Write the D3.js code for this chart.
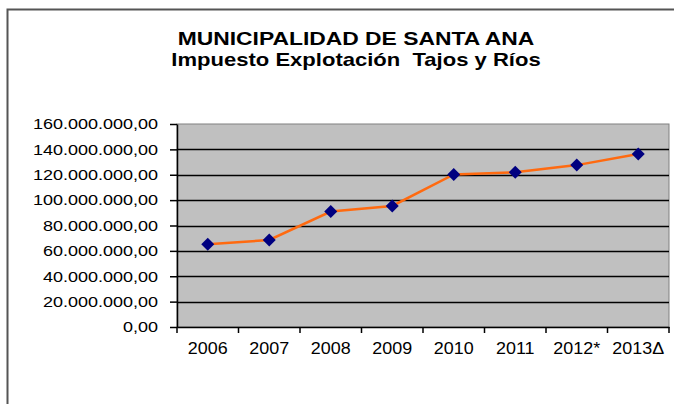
<!DOCTYPE html>
<meta charset="utf-8">
<style>
  body { margin: 0; background: #fff; }
  text { font-family: "Liberation Sans", Arial, sans-serif; white-space: pre; }
</style>
<body>
<script src="https://d3js.org/d3.v7.min.js"></script>
<script>

var years = ["2006", "2007", "2008", "2009", "2010", "2011", "2012*", "2013\u0394"];
var values = [65200000, 68600000, 91000000, 95400000, 120200000, 122000000, 127600000, 136300000];
var yTicks = [0, 20000000, 40000000, 60000000, 80000000, 100000000, 120000000, 140000000, 160000000];
var titleLines = ["MUNICIPALIDAD DE SANTA ANA", "Impuesto Explotación  Tajos y Ríos"];

var width = 674,
    height = 404,
    plot = { left: 177, right: 669, top: 124, bottom: 327 };

var svg = d3.select("body").append("svg")
    .attr("width", width)
    .attr("height", height);

// outer frame
svg.append("path")
    .attr("d", "M7.5," + height + "V9.5H" + width)
    .attr("fill", "none")
    .attr("stroke", "#555")
    .attr("stroke-width", 2);

// title (glyphs are stretched wide in the original)
var titleScale = [1.27, 1.225];
svg.selectAll(".title")
    .data(titleLines)
  .enter().append("text")
    .attr("transform", function(d, i) { return "translate(356," + (44.5 + i * 21.5) + ") scale(" + titleScale[i] + ",1)"; })
    .attr("text-anchor", "middle")
    .attr("font-size", 18)
    .attr("font-weight", "bold")
    .attr("fill", "#000")
    .text(function(d) { return d; });

var x = d3.scaleBand()
    .domain(years)
    .range([plot.left, plot.right]);

var y = d3.scaleLinear()
    .domain([0, 160000000])
    .range([plot.bottom, plot.top]);

// plot background
svg.append("rect")
    .attr("x", plot.left)
    .attr("y", plot.top)
    .attr("width", plot.right - plot.left)
    .attr("height", plot.bottom - plot.top)
    .attr("fill", "#c0c0c0")
    .attr("stroke", "#808080");

// gridlines
svg.append("g")
  .selectAll("line")
    .data(yTicks.slice(1, -1))
  .enter().append("line")
    .attr("x1", plot.left)
    .attr("x2", plot.right)
    .attr("y1", function(d) { return Math.round(y(d)) + 0.5; })
    .attr("y2", function(d) { return Math.round(y(d)) + 0.5; })
    .attr("stroke", "#000")
    .attr("stroke-width", 1.4);

var fmt = function(d) {
  return d3.format(",.2f")(d).replace(/,/g, "#").replace(".", ",").replace(/#/g, ".");
};

// y axis
var yAxis = svg.append("g")
    .attr("transform", "translate(" + plot.left + ",0)")
    .call(d3.axisLeft(y).tickValues(yTicks).tickFormat(fmt).tickSize(7).tickSizeOuter(0));
yAxis.selectAll("text")
    .attr("x", -19 / 1.2)
    .attr("transform", "scale(1.2,1)")
    .attr("font-size", 15)
    .attr("font-family", "Liberation Sans, Arial, sans-serif")
    .attr("fill", "#000");
yAxis.selectAll("line, path").attr("stroke", "#000").attr("stroke-width", 1.5);

// x axis
var xAxis = svg.append("g")
    .attr("transform", "translate(0," + plot.bottom + ")")
    .call(d3.axisBottom(x).tickSize(0).tickSizeOuter(0));
xAxis.select(".domain").attr("stroke", "#000").attr("stroke-width", 1.5);
xAxis.selectAll(".tick line").remove();
xAxis.selectAll("text")
    .attr("y", 27)
    .attr("dy", 0)
    .attr("transform", "scale(1.12,1)")
    .attr("font-size", 16)
    .attr("font-family", "Liberation Sans, Arial, sans-serif")
    .attr("fill", "#000");
// keep scaled x labels centred on their tick
xAxis.selectAll(".tick").each(function() {
  var t = d3.select(this).attr("transform");
  var cx = +t.match(/translate\(([-\d.]+)/)[1];
  d3.select(this).attr("transform", null)
    .select("text").attr("x", cx / 1.12);
});
xAxis.selectAll(".sep")
    .data(years.concat(["end"]))
  .enter().append("line")
    .attr("x1", function(d, i) { return plot.left + i * x.step(); })
    .attr("x2", function(d, i) { return plot.left + i * x.step(); })
    .attr("y1", 0)
    .attr("y2", 6)
    .attr("stroke", "#000")
    .attr("stroke-width", 1.5);

// line
var line = d3.line()
    .x(function(d, i) { return x(years[i]) + x.bandwidth() / 2; })
    .y(function(d) { return y(d); });

svg.append("path")
    .datum(values)
    .attr("d", line)
    .attr("fill", "none")
    .attr("stroke", "#ff6a10")
    .attr("stroke-width", 2.5);

// markers
svg.selectAll(".pt")
    .data(values)
  .enter().append("path")
    .attr("class", "pt")
    .attr("transform", function(d, i) {
      return "translate(" + (x(years[i]) + x.bandwidth() / 2) + "," + y(d) + ")";
    })
    .attr("d", "M0,-6.5L6.5,0L0,6.5L-6.5,0Z")
    .attr("fill", "#000080");

</script>
